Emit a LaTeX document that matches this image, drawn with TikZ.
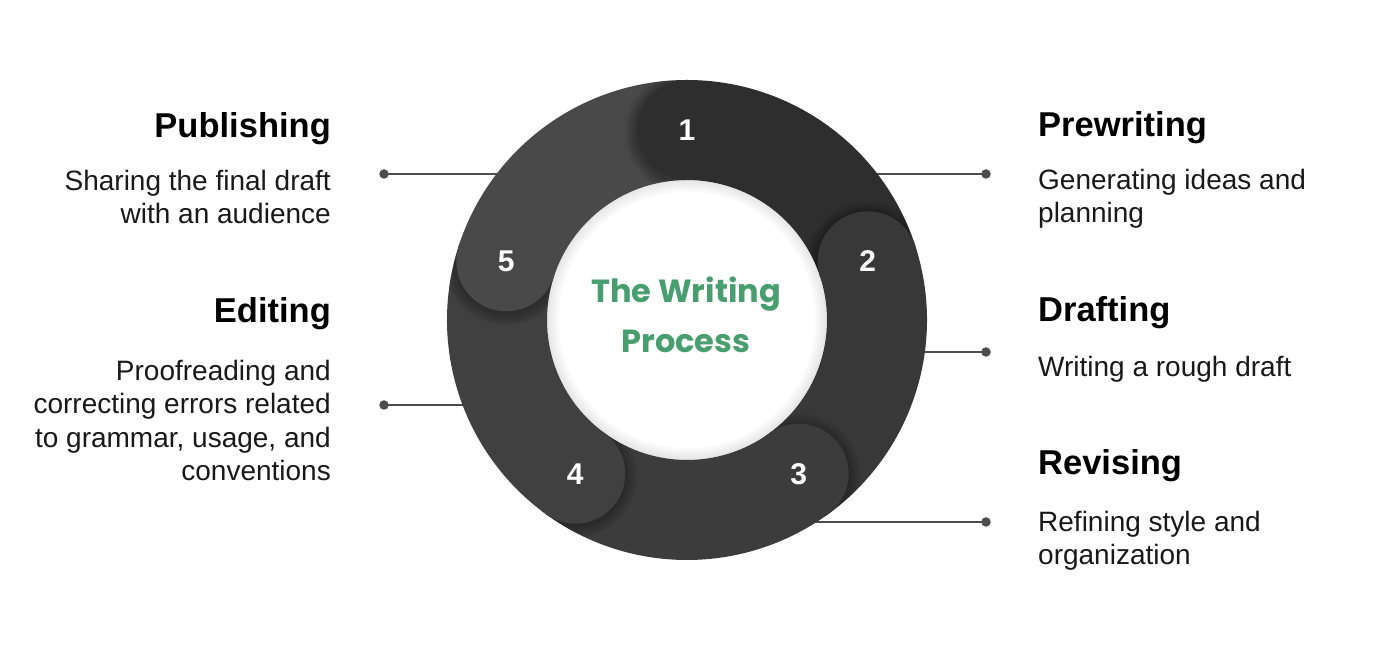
\documentclass[tikz,border=0pt]{standalone}
\usepackage{fontspec}
\setmainfont{Liberation Sans}
\newfontfamily\titlefont{Poppins}
\usetikzlibrary{calc}
\definecolor{segA}{HTML}{2E2E2E}
\definecolor{segB}{HTML}{383838}
\definecolor{segC}{HTML}{3C3C3C}
\definecolor{segD}{HTML}{404040}
\definecolor{segE}{HTML}{494949}
\definecolor{conncol}{HTML}{4D4D4D}
\definecolor{titlegreen}{RGB}{72,158,110}
\tikzset{
  heading/.style={inner sep=0pt, font=\bfseries\fontsize{34.5}{40}\selectfont, text=black},
  bodyr/.style={inner sep=0pt, anchor=base west, align=left, font=\fontsize{28}{33.5}\selectfont, text=black!90},
  bodyl/.style={inner sep=0pt, anchor=base east, align=right, font=\fontsize{28}{33.5}\selectfont, text=black!90},
  dotnode/.style={circle, fill=conncol, inner sep=0pt, minimum size=9.5pt},
  conn/.style={draw=conncol, line width=1.4pt},
  numlabel/.style={inner sep=0pt, text=white, font=\bfseries\fontsize{30}{30}\selectfont},
  titletext/.style={inner sep=0pt, align=center, text=titlegreen, font=\titlefont\bfseries\fontsize{32}{50}\selectfont}
}
\begin{document}
\begin{tikzpicture}[x=1pt,y=1pt]
\useasboundingbox (0,0) rectangle (1385,660);
\fill[white] (0,0) rectangle (1385,660);

% connectors (behind the ring)
\node[dotnode] (d1) at (986,486) {};
\node[dotnode] (d2) at (986,308) {};
\node[dotnode] (d3) at (986,138) {};
\node[dotnode] (d5) at (384,486) {};
\node[dotnode] (d4) at (384,255) {};
\coordinate (r1) at (820,486);
\coordinate (r2) at (850,308);
\coordinate (r3) at (760,138);
\coordinate (r5) at (560,486);
\coordinate (r4) at (520,255);
\draw[conn] (d1.center) -- (r1);
\draw[conn] (d2.center) -- (r2);
\draw[conn] (d3.center) -- (r3);
\draw[conn] (d5.center) -- (r5);
\draw[conn] (d4.center) -- (r4);

% ring
\begin{scope}[shift={(687,340)}]
  \foreach \a/\c in {90/segA,18/segB,-54/segC,-126/segD,162/segE}{
    \fill[\c] (\a:240) arc[start angle=\a, end angle=\a-72, radius=240]
      -- (\a-72:140) arc[start angle=\a-72, end angle=\a, radius=140] -- cycle;
  }
  % soft glow inside the hole
  \foreach \k in {1,...,6}{
    \fill[black, opacity=0.014, even odd rule] (0,0) circle[radius=140] (0,0) circle[radius=140-2*\k];
  }
  % caps with shadows (shadow falls on the previous segment only)
  \foreach \a/\c/\n in {90/segA/1,18/segB/2,-54/segC/3,-126/segD/4,162/segE/5}{
    \begin{scope}
      \clip (\a+72:240) arc[start angle=\a+72, end angle=\a, radius=240]
        -- (\a:140) arc[start angle=\a, end angle=\a+72, radius=140] -- cycle;
      \foreach \k in {1,...,8}{
        \fill[black, opacity=0.035] ($(\a:190)+(0,-2)$) circle[radius=50+1.5*\k];
      }
    \end{scope}
    \fill[\c] (\a:190) circle[radius=50];
    \node[numlabel] (n\n) at (\a:190) {\n};
  }
\end{scope}

\node[titletext, anchor=base] (title) at (686,307) {The Writing\\Process};

% left texts
\node[heading, anchor=base east] (h5) at (331,522) {Publishing};
\node[bodyl] (b5) at (331,436) {Sharing the final draft\\with an audience};
\node[heading, anchor=base east] (h4) at (331,337) {Editing};
\node[bodyl] (b4) at (331,179) {Proofreading and\\correcting errors related\\to grammar, usage, and\\conventions};

% right texts
\node[heading, anchor=base west] (h1) at (1038,523) {Prewriting};
\node[bodyr] (b1) at (1038,437) {Generating ideas and\\planning};
\node[heading, anchor=base west] (h2) at (1038,338) {Drafting};
\node[bodyr] (b2) at (1038,283) {Writing a rough draft};
\node[heading, anchor=base west] (h3) at (1038,185) {Revising};
\node[bodyr] (b3) at (1038,95) {Refining style and\\organization};
\end{tikzpicture}
\end{document}
